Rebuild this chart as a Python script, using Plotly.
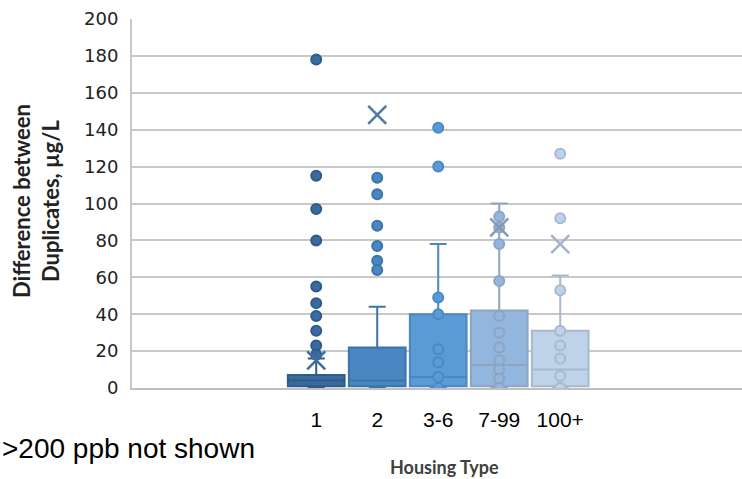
import plotly.graph_objects as go

categories = ["1", "2", "3-6", "7-99", "100+"]
q1 = [1, 1, 1, 1, 1]
median = [4, 4, 6, 12.5, 10]
q3 = [7, 22, 40, 42, 31]
lower = [0, 0, 0, 0, 0]
upper = [16, 44, 78, 100, 61]
means = [15, 148, None, 87, 78]
points = [
    [178, 115, 97, 80, 55, 46, 39, 31, 23, 18],
    [114, 105, 88, 77, 69, 64],
    [141, 120, 49, 40, 21, 14, 6, 0],
    [93, 87, 78, 58, 39, 30, 22, 15, 10, 5, 0],
    [127, 92, 53, 31, 23, 16, 6.5, 0],
]

fills = ["#3A6B9C", "#4A86C1", "#5B9BD5", "#93B6DF", "#BED2EA"]
lines = ["#2E5C8A", "#3C74A8", "#4A88C4", "#8FA4BF", "#A9B9CD"]
xcol = ["#3F6E9E", "#52799F", "#4A88C4", "#8398B4", "#A3B3C8"]

fig = go.Figure()
for i, c in enumerate(categories):
    fig.add_trace(go.Box(
        x=[i], q1=[q1[i]], median=[median[i]], q3=[q3[i]],
        lowerfence=[lower[i]], upperfence=[upper[i]],
        fillcolor=fills[i], line=dict(color=lines[i], width=2),
        width=0.93, whiskerwidth=0.3, boxpoints=False, showlegend=False,
        hoverinfo="skip",
    ))
for i, c in enumerate(categories):
    fig.add_trace(go.Scatter(
        x=[i] * len(points[i]), y=points[i], mode="markers",
        marker=dict(size=10, color=fills[i], line=dict(color=lines[i], width=2)),
        showlegend=False, hoverinfo="skip",
    ))
    if means[i] is not None:
        fig.add_trace(go.Scatter(
            x=[i], y=[means[i]], mode="markers",
            marker=dict(symbol="x-thin", size=18, line=dict(color=xcol[i], width=2.5)),
            showlegend=False, hoverinfo="skip",
        ))

fig.update_layout(
    width=742, height=479,
    margin=dict(l=132, r=0, t=19, b=91),
    plot_bgcolor="white", paper_bgcolor="white",
    font=dict(family="Liberation Sans, Arial", color="black"),
    xaxis=dict(
        range=[-3.02, 6.98], tickmode="array", tickvals=list(range(len(categories))),
        ticktext=categories, showgrid=False, zeroline=False,
        showline=True, linecolor="#BFBFBF", linewidth=2,
        tickfont=dict(size=21, family="Liberation Sans, Arial"),
        ticklabelstandoff=12, ticks="",
    ),
    yaxis=dict(
        range=[0, 200], dtick=20, showgrid=True, gridcolor="#C8C8C8", gridwidth=2,
        zeroline=False, showline=True, linecolor="#C8C8C8", linewidth=2,
        tickfont=dict(size=18, family="DejaVu Sans", color="#222222"),
        ticklabelstandoff=8, ticks="",
    ),
    annotations=[
        dict(text="<b>Difference between<br>Duplicates, µg/L</b>", xref="paper", yref="paper",
             x=(36 - 132) / 610, y=(388 - 201) / 369, xanchor="center", yanchor="middle",
             textangle=-90, showarrow=False,
             font=dict(size=22, family="Lato, Open Sans", color="#222222"), align="center"),
        dict(text="<b>Housing Type</b>", xref="paper", yref="paper",
             x=(445 - 132) / 610, y=(388 - 467) / 369, xanchor="center", yanchor="middle",
             showarrow=False, font=dict(size=18, family="Lato, Open Sans", color="#404040")),
        dict(text=">200 ppb not shown", xref="paper", yref="paper",
             x=(0 - 132) / 610, y=(388 - 448) / 369, xanchor="left", yanchor="middle",
             showarrow=False, font=dict(size=28, family="Liberation Sans, Arial")),
    ],
)

fig.write_html("out.html", config={"displayModeBar": False},
               post_script="document.body.style.margin='0';")
